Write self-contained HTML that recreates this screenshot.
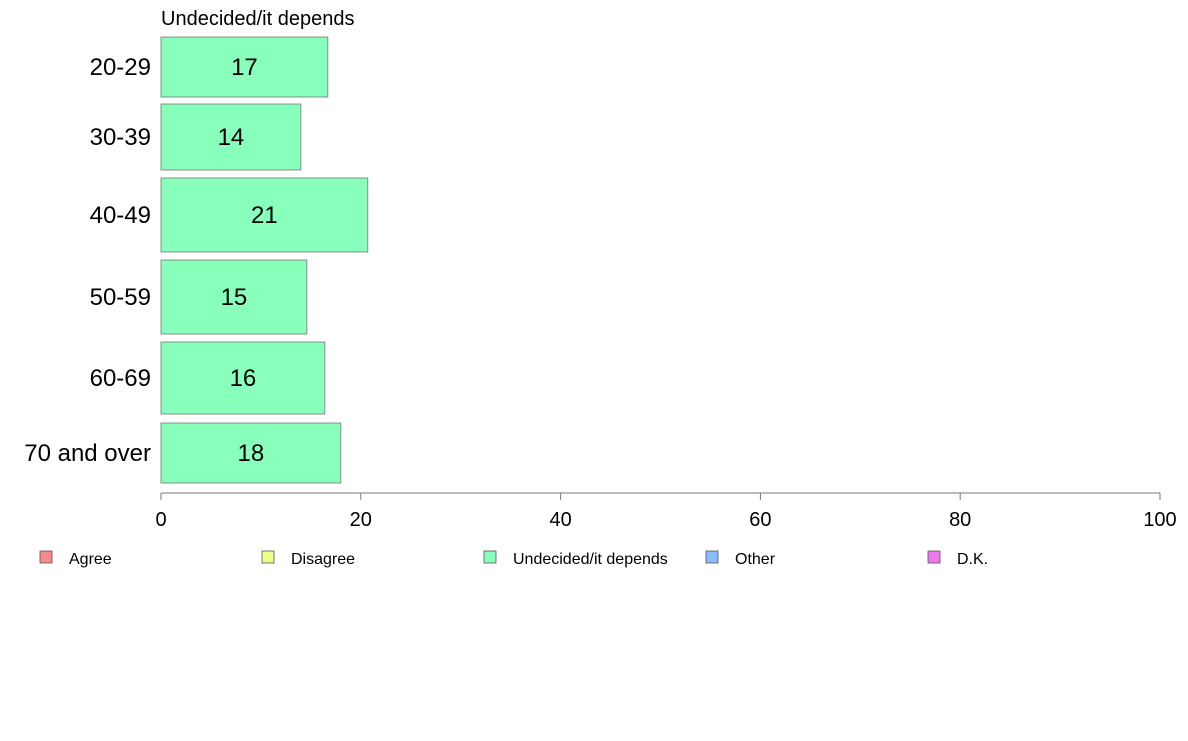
<!DOCTYPE html>
<html><head><meta charset="utf-8"><style>
body{margin:0;background:#fff;font-family:"Liberation Sans",sans-serif;}
svg text{font-family:"Liberation Sans",sans-serif;}
</style></head><body>
<svg id="chart" width="1188" height="736" xmlns="http://www.w3.org/2000/svg">
<text x="161" y="25" font-size="20">Undecided/it depends</text>
<g id="bars"></g><g id="axis"></g><g id="legend"></g>
</svg>
<script>
const categories = ["20-29","30-39","40-49","50-59","60-69","70 and over"];
const values = [16.7, 14.0, 20.7, 14.6, 16.4, 18.0];
const labels = ["17","14","21","15","16","18"];
const ticks = [0,20,40,60,80,100];
const legendLabels = ["Agree","Disagree","Undecided/it depends","Other","D.K."];
const legendColors = ["#f88a8a","#eeff88","#88ffbb","#88bbff","#ee77ee"];
const ns="http://www.w3.org/2000/svg";
const bandTop=[37,104,178,260,342,423], bandH=[60,66,74,74,72,60];
const x0=161, x1=1160;
const xs=v=>x0+(x1-x0)*v/100;
function mk(t,a,p){const e=document.createElementNS(ns,t);for(const k in a)e.setAttribute(k,a[k]);p.appendChild(e);return e;}
const gb=document.getElementById('bars');
categories.forEach((c,i)=>{
 const r=mk('rect',{x:x0,y:bandTop[i],width:xs(values[i])-x0,height:bandH[i],fill:'#88ffbb',stroke:'#777','stroke-width':0.8},gb);
 
 
 const cy=bandTop[i]+bandH[i]/2+8;
 const t=mk('text',{x:(x0+xs(values[i]))/2,y:cy,'font-size':24,'text-anchor':'middle'},gb);t.textContent=labels[i];
 
 
 const l=mk('text',{x:151,y:cy,'font-size':24,'text-anchor':'end'},gb);l.textContent=c;
 
 
});
const ga=document.getElementById('axis');
const al=mk('line',{x1:x0,x2:x1,y1:493,y2:493,stroke:'#777'},ga);


ticks.forEach(v=>{
 mk('line',{x1:xs(v),x2:xs(v),y1:493,y2:500,stroke:'#777'},ga);
 const t=mk('text',{x:xs(v),y:526,'font-size':20,'text-anchor':'middle'},ga);t.textContent=v;
 
 
});
const gl=document.getElementById('legend');
legendLabels.forEach((s,i)=>{
 const x=40+222*i;
 const r=mk('rect',{x:x,y:551,width:12,height:12,fill:legendColors[i],stroke:'#555','stroke-width':0.8},gl);
 
 
 const t=mk('text',{x:x+29,y:564,'font-size':16},gl);t.textContent=s;
 
 
});
</script>
</body></html>
